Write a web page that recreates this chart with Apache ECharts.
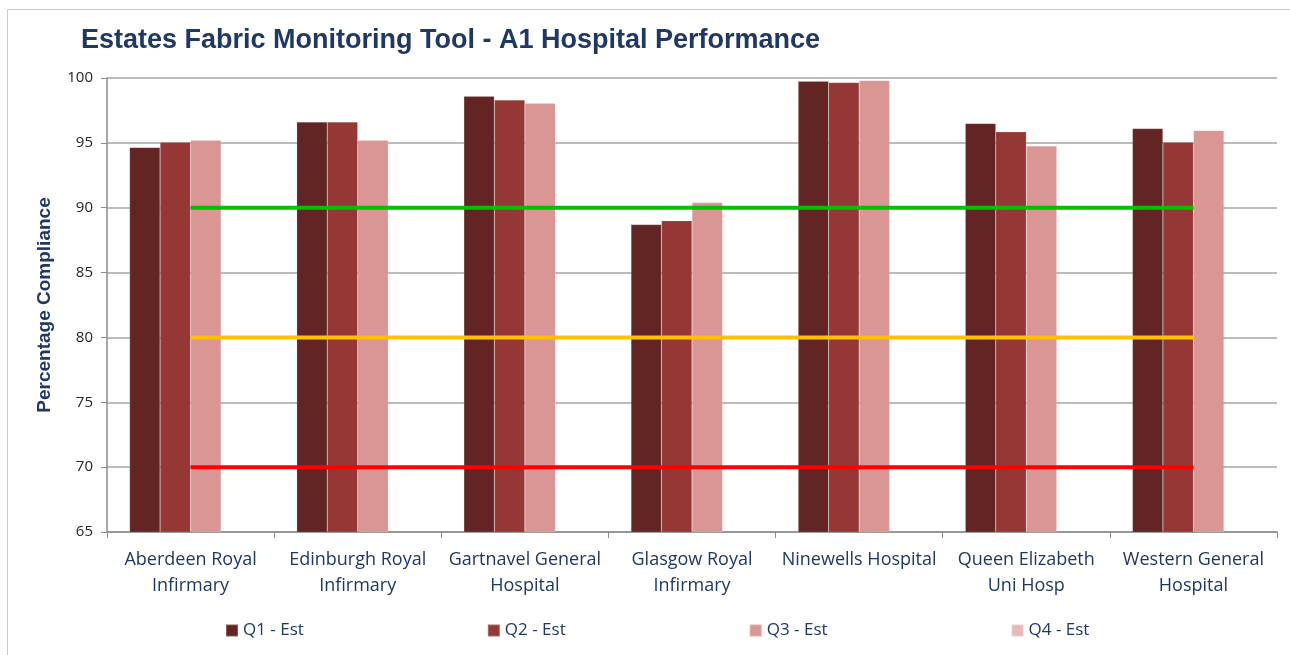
<!DOCTYPE html>
<html>
<head>
<meta charset="utf-8">
<title>Estates Fabric Monitoring Tool</title>
<script src="https://cdn.jsdelivr.net/npm/echarts@6/dist/echarts.min.js"></script>
<style>
  html, body { margin: 0; padding: 0; background: #fff; }
  #main { width: 1290px; height: 655px; }
</style>
</head>
<body>
<div id="main"></div>
<script>
// hospitals on the x axis
var hospitals = [
    'Aberdeen Royal\nInfirmary',
    'Edinburgh Royal\nInfirmary',
    'Gartnavel General\nHospital',
    'Glasgow Royal\nInfirmary',
    'Ninewells Hospital',
    'Queen Elizabeth\nUni Hosp',
    'Western General\nHospital'
];
// quarterly compliance (%)
var q1Est = [94.65, 96.6, 98.6, 88.7, 99.75, 96.5, 96.1];
var q2Est = [95.05, 96.6, 98.3, 89.0, 99.65, 95.85, 95.05];
var q3Est = [95.2, 95.2, 98.05, 90.4, 99.8, 94.75, 95.95];
var q4Est = [null, null, null, null, null, null, null]; // no data yet
// target lines
var target90 = [90, 90, 90, 90, 90, 90, 90];
var target80 = [80, 80, 80, 80, 80, 80, 80];
var target70 = [70, 70, 70, 70, 70, 70, 70];

var navy = '#1f3864';
var myChart = echarts.init(document.getElementById('main'));

function barSeries(name, data, color) {
    return {
        name: name,
        type: 'bar',
        data: data,
        barGap: 0,
        barCategoryGap: '27%',
        itemStyle: { color: color, borderColor: 'rgba(255,255,255,0.25)', borderWidth: 0.5 },
        z: 2
    };
}
function lineSeries(name, data, color) {
    return {
        name: name,
        type: 'line',
        data: data,
        symbol: 'none',
        lineStyle: { color: color, width: 4 },
        silent: true,
        z: 5
    };
}

var option = {
    backgroundColor: '#fff',
    animation: false,
    title: {
        text: 'Estates Fabric Monitoring Tool - A1 Hospital Performance',
        left: 76,
        top: 22,
        textStyle: {
            color: navy,
            fontFamily: 'Liberation Sans',
            fontWeight: 'bold',
            fontSize: 27
        }
    },
    graphic: [{
        type: 'rect',
        shape: { x: 7.5, y: 9.5, width: 1290, height: 660 },
        style: { fill: 'none', stroke: '#c8c8c8', lineWidth: 1 },
        silent: true
    }],
    legend: {
        data: ['Q1 - Est', 'Q2 - Est', 'Q3 - Est', 'Q4 - Est'],
        left: 220,
        top: 617,
        itemWidth: 12,
        itemHeight: 12,
        itemGap: 183,
        icon: 'rect',
        textStyle: { color: navy, fontFamily: 'Open Sans', fontSize: 17 }
    },
    grid: { left: 107, right: 13, top: 78, bottom: 123, containLabel: false },
    xAxis: {
        type: 'category',
        data: hospitals,
        axisLine: { lineStyle: { color: '#8c8c8c', width: 1.5 } },
        axisTick: { show: true, length: 6, lineStyle: { color: '#8c8c8c' } },
        axisLabel: {
            color: navy,
            fontFamily: 'Open Sans',
            fontSize: 18,
            lineHeight: 26,
            margin: 15,
            interval: 0
        }
    },
    yAxis: {
        type: 'value',
        min: 65,
        max: 100,
        interval: 5,
        name: 'Percentage Compliance',
        nameLocation: 'middle',
        nameGap: 53,
        nameTextStyle: {
            color: navy,
            fontFamily: 'Liberation Sans',
            fontWeight: 'bold',
            fontSize: 19
        },
        axisLine: { show: true, lineStyle: { color: '#8c8c8c', width: 1.5 } },
        axisTick: { show: true, length: 6, lineStyle: { color: '#8c8c8c' } },
        axisLabel: { color: '#262626', fontFamily: 'Open Sans', fontSize: 15, margin: 14 },
        splitLine: { lineStyle: { color: '#a6a6a6', width: 1.5 } }
    },
    series: [
        barSeries('Q1 - Est', q1Est, '#632523'),
        barSeries('Q2 - Est', q2Est, '#953735'),
        barSeries('Q3 - Est', q3Est, '#d99694'),
        barSeries('Q4 - Est', q4Est, '#e6b9b8'),
        lineSeries('Target 90', target90, '#00c000'),
        lineSeries('Target 80', target80, '#ffc000'),
        lineSeries('Target 70', target70, '#ff0000')
    ]
};

myChart.setOption(option);
</script>
</body>
</html>
